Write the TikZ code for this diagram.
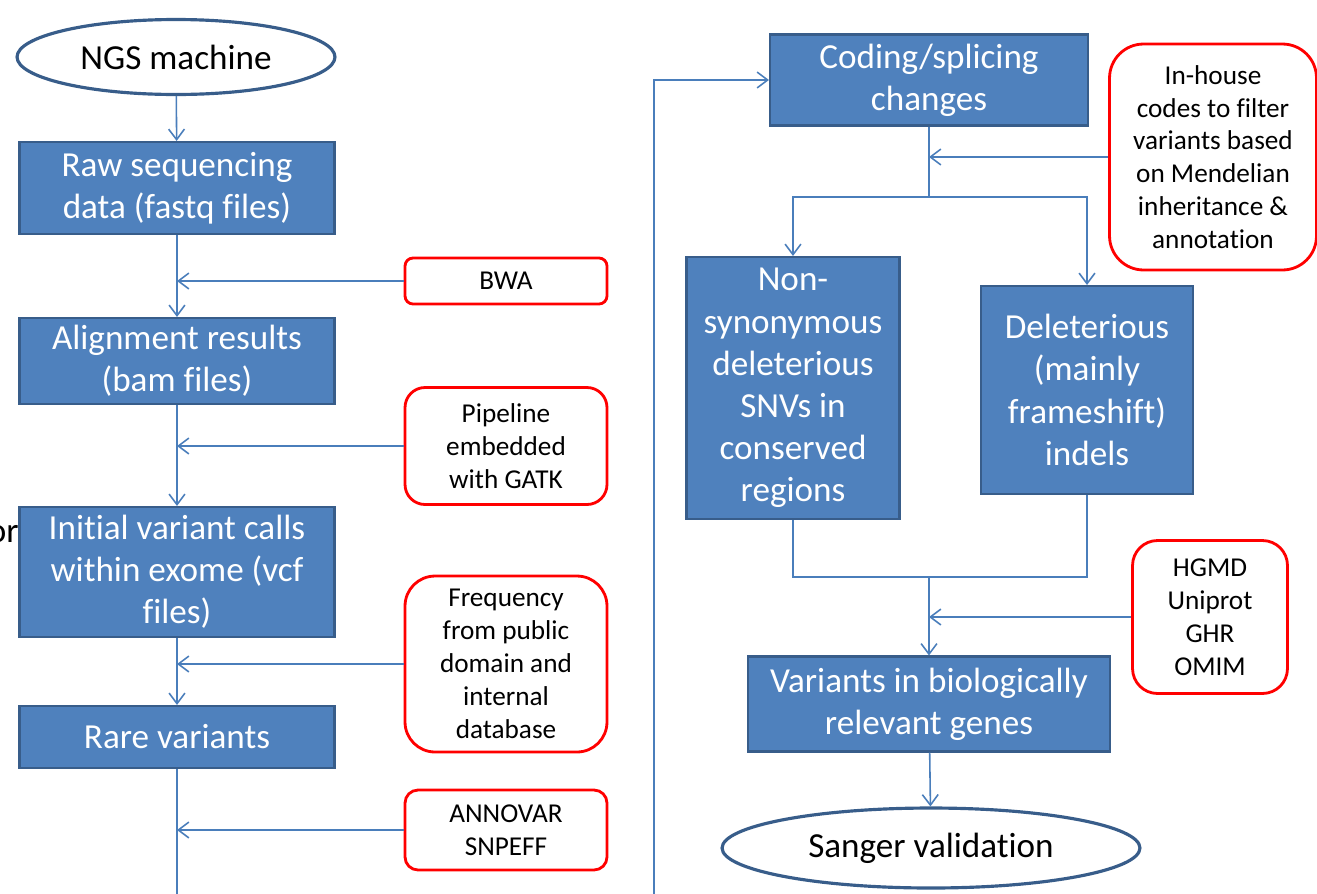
\documentclass[tikz,border=0pt]{standalone}
\usepackage{fontspec}
\setmainfont{Carlito}[Ligatures=NoCommon]
\usetikzlibrary{shapes.geometric, arrows.meta, positioning}
\definecolor{boxblue}{HTML}{4F81BD}
\definecolor{boxedge}{HTML}{385D8A}
\definecolor{linkblue}{HTML}{4A7EBB}
\tikzset{
  stage/.style={rectangle, draw=boxedge, line width=1.2pt, fill=boxblue, text=white, align=center, font=\fontsize{20}{24}\selectfont, inner sep=2pt},
  tool/.style={rectangle, draw=red, line width=1.6pt, rounded corners=#1, fill=white, align=center, font=\fontsize{15.5}{18.7}\selectfont, inner sep=2pt},
  tool/.default=0.4cm,
  endpoint/.style={ellipse, draw=boxedge, line width=1.8pt, fill=white, inner sep=0pt, font=\fontsize{20}{24}\selectfont},
  link/.style={draw=linkblue, line width=0.9pt},
  arrow/.style={link, -{Straight Barb[length=6pt, width=9pt]}}
}

\begin{document}
\begin{tikzpicture}[x=0.02cm, y=-0.02cm]
        \useasboundingbox (0,0) rectangle (1317,893);
        % Left column
        \node[anchor=base east, inner sep=0pt, font=\fontsize{20}{24}\selectfont] (orlabel) at (19,542) {or};
        \node[endpoint, minimum width=6.36cm, minimum height=1.5cm] (ngs) at (176,57) {NGS machine};
        \node[stage, minimum width=6.3cm, minimum height=1.84cm] (raw) at (177,188) {Raw sequencing\\data (fastq files)};
        \node[stage, minimum width=6.3cm, minimum height=1.72cm] (align) at (177,361) {Alignment results\\(bam files)};
        \node[stage, minimum width=6.3cm, minimum height=2.6cm] (calls) at (177,572) {Initial variant calls\\within exome (vcf\\files)};
        \node[stage, minimum width=6.3cm, minimum height=1.24cm] (rare) at (177,737) {Rare variants};

        % Tools on the left
        \node[tool=0.16cm, minimum width=4.04cm, minimum height=0.92cm] (bwa) at (506,281) {BWA};
        \node[tool, minimum width=4.04cm, minimum height=2.34cm] (gatk) at (506,446) {Pipeline\\embedded\\with GATK};
        \node[tool=0.6cm, minimum width=4.04cm, minimum height=3.52cm] (freq) at (506,664) {Frequency\\from public\\domain and\\internal\\database};
        \node[tool=0.26cm, minimum width=4.04cm, minimum height=1.6cm] (annot) at (506,830) {ANNOVAR\\SNPEFF};

        % Left arrows
        \draw[arrow] (ngs) -- (raw);
        \draw[arrow] (raw) -- (align);
        \draw[arrow] (align) -- (calls);
        \draw[arrow] (calls) -- (rare);
        \draw[arrow] (bwa.west) -- (bwa.west -| raw.south);
        \draw[arrow] (gatk.west) -- (gatk.west -| raw.south);
        \draw[arrow] (freq.west) -- (freq.west -| raw.south);
        \draw[arrow] (annot.west) -- (annot.west -| raw.south);

        % Right column
        \node[stage, minimum width=6.36cm, minimum height=1.82cm] (coding) at (929,80) {Coding/splicing\\changes};
        \node[tool=0.68cm, minimum width=4.14cm, minimum height=4.52cm] (inhouse) at (1213,157) {In-house\\codes to filter\\variants based\\on Mendelian\\inheritance \&\\annotation};
        \node[stage, minimum width=4.26cm, minimum height=5.24cm] (nonsyn) at (793,388) {Non-\\synonymous\\deleterious\\SNVs in\\conserved\\regions};
        \node[stage, minimum width=4.24cm, minimum height=4.16cm] (indel) at (1087,390) {Deleterious\\(mainly\\frameshift)\\indels};
        \node[tool=0.5cm, minimum width=3.1cm, minimum height=3.06cm] (hgmd) at (1210,617) {HGMD\\Uniprot\\GHR\\OMIM};
        \node[stage, minimum width=7.24cm, minimum height=1.9cm] (genes) at (929,704) {Variants in biologically\\relevant genes};
        \node[endpoint, minimum width=8.36cm, minimum height=1.6cm] (sanger) at (931,848) {Sanger validation};

        % Link between the columns, under the page edge
        \coordinate (under) at (177,910);
        \coordinate (turn) at (654,910);
        \coordinate (up) at (654,80);
        \draw[arrow] (rare.south) -- (under) -- (turn) -- (up) -- (coding.west);

        % Right arrows
        \coordinate (fork) at (929,197);
        \coordinate (join) at (929,577);
        \draw[link] (coding.south) -- (fork);
        \draw[arrow] (fork) -| (nonsyn.north);
        \draw[arrow] (fork) -| (indel.north);
        \draw[arrow] (inhouse.west) -- (inhouse.west -| coding.south);
        \draw[link] (nonsyn.south) |- (join);
        \draw[link] (indel.south) |- (join);
        \draw[arrow] (join) -- (genes.north);
        \draw[arrow] (hgmd.west) -- (hgmd.west -| genes.north);
        \draw[arrow] (genes) -- (sanger);

    \end{tikzpicture}
\end{document}
